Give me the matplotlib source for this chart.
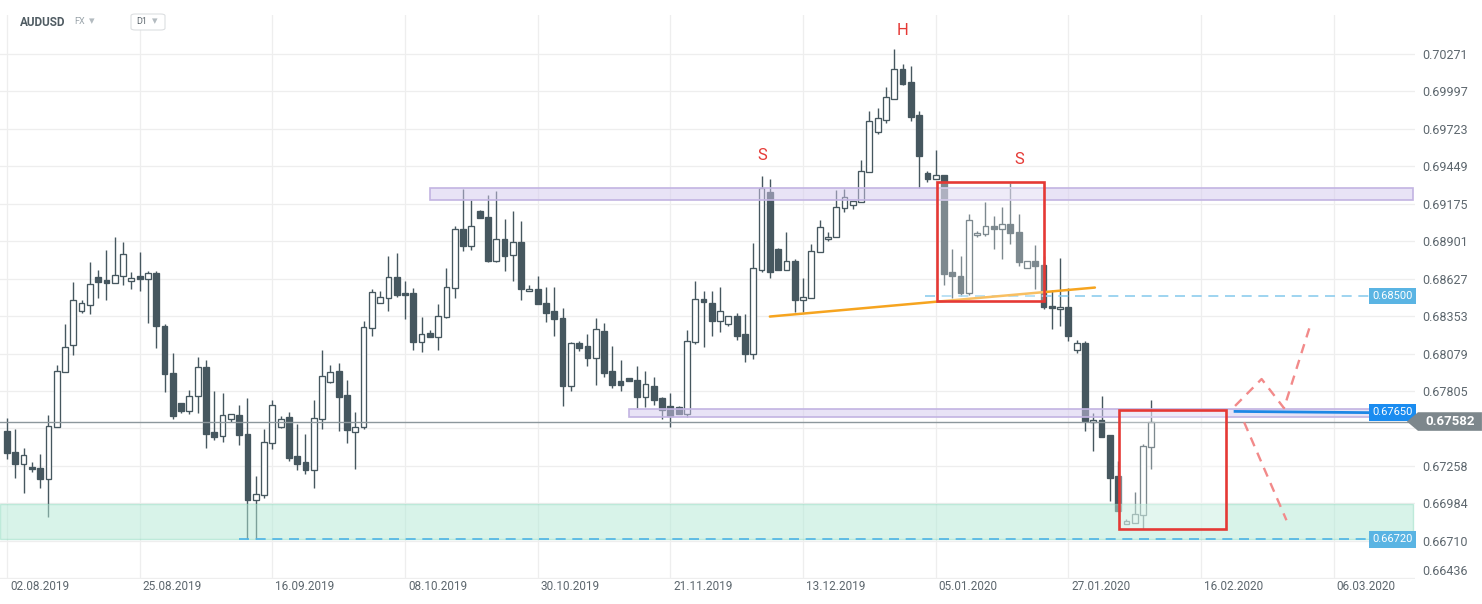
import matplotlib
matplotlib.use('Agg')
import matplotlib.pyplot as plt
import matplotlib.transforms as mtransforms
from matplotlib.patches import Rectangle, Polygon, FancyBboxPatch

plt.rcParams['font.family'] = ['Roboto', 'DejaVu Sans']

# AUDUSD D1 candles, first bar 02.08.2019
opens = [0.67510, 0.67362, 0.67274, 0.67253, 0.67245, 0.67165, 0.67544, 0.67946, 0.68143, 0.68392,
         0.68436, 0.68640, 0.68618, 0.68596, 0.68647, 0.68611, 0.68647, 0.68625, 0.68669, 0.68282,
         0.67939, 0.67715, 0.67661, 0.67766, 0.67983, 0.67503, 0.67479, 0.67598, 0.67632, 0.67493,
         0.67011, 0.67048, 0.67428, 0.67544, 0.67612, 0.67328, 0.67284, 0.67227, 0.67603, 0.67873,
         0.67953, 0.67773, 0.67508, 0.67544, 0.68268, 0.68450, 0.68489, 0.68640, 0.68525, 0.68525,
         0.68165, 0.68226, 0.68202, 0.68345, 0.68562, 0.68991, 0.68866, 0.69122, 0.69080, 0.68754,
         0.68918, 0.68801, 0.68898, 0.68538, 0.68554, 0.68452, 0.68387, 0.68343, 0.67839, 0.68153,
         0.68131, 0.68048, 0.68241, 0.67948, 0.67875, 0.67902, 0.67883, 0.67758, 0.67844, 0.67756,
         0.67693, 0.67685, 0.67636, 0.68162, 0.68479, 0.68450, 0.68319, 0.68297, 0.68354, 0.68219,
         0.68075, 0.68693, 0.69263, 0.68847, 0.68693, 0.68759, 0.68472, 0.68489, 0.68823, 0.68918,
         0.68932, 0.69144, 0.69166, 0.69188, 0.69407, 0.69699, 0.69787, 0.69940, 0.70159, 0.70067,
         0.69825, 0.69400, 0.69356, 0.69385, 0.68677, 0.68650, 0.68525, 0.68944, 0.68954, 0.69015,
         0.68988, 0.69029, 0.68971, 0.68706, 0.68759, 0.68730, 0.68430, 0.68406, 0.68423, 0.68104,
         0.68160, 0.67578, 0.67590, 0.67481, 0.67181, 0.66831, 0.66838, 0.66897, 0.67399]
highs = [0.67610, 0.67525, 0.67391, 0.67289, 0.67342, 0.67627, 0.67997, 0.68292, 0.68606, 0.68474,
         0.68752, 0.68693, 0.68839, 0.68932, 0.68898, 0.68677, 0.68825, 0.68684, 0.68681, 0.68297,
         0.68080, 0.67718, 0.67810, 0.68051, 0.68029, 0.67802, 0.67788, 0.67640, 0.67700, 0.67751,
         0.67181, 0.67525, 0.67737, 0.67620, 0.67649, 0.67561, 0.67488, 0.67737, 0.68102, 0.67992,
         0.68007, 0.67883, 0.67649, 0.68321, 0.68554, 0.68535, 0.68796, 0.68818, 0.68613, 0.68562,
         0.68350, 0.68253, 0.68445, 0.68708, 0.69015, 0.69285, 0.69200, 0.69132, 0.69241, 0.69270,
         0.69066, 0.69124, 0.69051, 0.68582, 0.68650, 0.68564, 0.68564, 0.68409, 0.68161, 0.68170,
         0.68219, 0.68343, 0.68306, 0.68131, 0.68029, 0.67903, 0.67985, 0.67948, 0.67905, 0.67761,
         0.67788, 0.67693, 0.68248, 0.68613, 0.68540, 0.68540, 0.68569, 0.68355, 0.68376, 0.68365,
         0.68891, 0.69380, 0.69358, 0.68850, 0.68971, 0.68769, 0.68633, 0.68878, 0.69059, 0.68971,
         0.69278, 0.69285, 0.69196, 0.69492, 0.69857, 0.69877, 0.70030, 0.70310, 0.70198, 0.70183,
         0.69855, 0.69416, 0.69570, 0.69386, 0.68847, 0.68796, 0.69102, 0.68978, 0.69190, 0.69088,
         0.69154, 0.69330, 0.69102, 0.68759, 0.68876, 0.68794, 0.68545, 0.68779, 0.68560, 0.68175,
         0.68168, 0.67647, 0.67768, 0.67482, 0.67291, 0.66867, 0.67065, 0.67417, 0.67737]
lows = [0.67311, 0.67172, 0.67062, 0.67216, 0.67099, 0.66880, 0.67540, 0.67944, 0.68070, 0.68374,
        0.68367, 0.68484, 0.68474, 0.68594, 0.68582, 0.68549, 0.68535, 0.68301, 0.68119, 0.67797,
        0.67598, 0.67647, 0.67636, 0.67644, 0.67388, 0.67447, 0.67432, 0.67578, 0.67410, 0.66720,
        0.66722, 0.67026, 0.67381, 0.67534, 0.67293, 0.67227, 0.67198, 0.67096, 0.67527, 0.67863,
        0.67512, 0.67425, 0.67235, 0.67527, 0.68206, 0.68448, 0.68389, 0.68491, 0.68330, 0.68104,
        0.68089, 0.68202, 0.68104, 0.68343, 0.68484, 0.68827, 0.68834, 0.69068, 0.68752, 0.68752,
        0.68681, 0.68608, 0.68469, 0.68538, 0.68440, 0.68308, 0.68206, 0.67695, 0.67804, 0.68097,
        0.67985, 0.67846, 0.67905, 0.67826, 0.67804, 0.67877, 0.67680, 0.67688, 0.67700, 0.67600,
        0.67542, 0.67636, 0.67615, 0.68146, 0.68126, 0.68206, 0.68235, 0.68279, 0.68177, 0.68014,
        0.68039, 0.68674, 0.68630, 0.68690, 0.68690, 0.68381, 0.68381, 0.68489, 0.68823, 0.68903,
        0.68932, 0.69117, 0.69139, 0.69188, 0.69407, 0.69689, 0.69769, 0.69940, 0.70045, 0.69777,
        0.69294, 0.69331, 0.69355, 0.68584, 0.68489, 0.68498, 0.68511, 0.68932, 0.68942, 0.68842,
        0.68768, 0.68881, 0.68717, 0.68705, 0.68552, 0.68403, 0.68259, 0.68281, 0.68170, 0.68082,
        0.67512, 0.67366, 0.67468, 0.67004, 0.66927, 0.66831, 0.66838, 0.66794, 0.67235]
closes = [0.67355, 0.67274, 0.67340, 0.67236, 0.67165, 0.67549, 0.67951, 0.68129, 0.68472, 0.68450,
          0.68589, 0.68603, 0.68596, 0.68655, 0.68808, 0.68633, 0.68622, 0.68669, 0.68279, 0.67931,
          0.67622, 0.67658, 0.67766, 0.67983, 0.67490, 0.67469, 0.67632, 0.67639, 0.67483, 0.67008,
          0.67055, 0.67435, 0.67705, 0.67603, 0.67315, 0.67274, 0.67227, 0.67610, 0.67916, 0.67946,
          0.67763, 0.67520, 0.67544, 0.68275, 0.68530, 0.68496, 0.68640, 0.68505, 0.68505, 0.68162,
          0.68224, 0.68202, 0.68355, 0.68569, 0.68991, 0.68864, 0.69013, 0.69068, 0.68754, 0.68918,
          0.68791, 0.68898, 0.68549, 0.68554, 0.68440, 0.68374, 0.68330, 0.67839, 0.68160, 0.68119,
          0.68046, 0.68260, 0.67936, 0.67846, 0.67846, 0.67877, 0.67763, 0.67858, 0.67739, 0.67666,
          0.67622, 0.67636, 0.68173, 0.68479, 0.68455, 0.68316, 0.68392, 0.68352, 0.68206, 0.68073,
          0.68708, 0.69290, 0.68674, 0.68693, 0.68759, 0.68469, 0.68496, 0.68830, 0.69005, 0.68932,
          0.69151, 0.69227, 0.69195, 0.69414, 0.69779, 0.69801, 0.69955, 0.70159, 0.70054, 0.69813,
          0.69521, 0.69358, 0.69385, 0.68664, 0.68644, 0.68525, 0.69056, 0.68964, 0.69013, 0.68988,
          0.69027, 0.68959, 0.68747, 0.68757, 0.68717, 0.68418, 0.68410, 0.68423, 0.68206, 0.68160,
          0.67585, 0.67590, 0.67469, 0.67169, 0.66928, 0.66851, 0.66902, 0.67403, 0.67582]

date_ticks = [0, 16, 32, 48, 64, 80, 96, 112, 128, 144, 160]
date_labels = ['02.08.2019', '25.08.2019', '16.09.2019', '08.10.2019', '30.10.2019', '21.11.2019',
               '13.12.2019', '05.01.2020', '27.01.2020', '16.02.2020', '06.03.2020']
price_ticks = [0.66436, 0.66710, 0.66984, 0.67258, 0.67531, 0.67805, 0.68079, 0.68353,
               0.68627, 0.68901, 0.69175, 0.69449, 0.69723, 0.69997, 0.70271]

# drawn levels / zones
upper_zone = [0.69205, 0.69292]
lower_zone = [0.67613, 0.67672]
green_zone = [0.66720, 0.66977]
level_top = 0.68500
level_bottom = 0.66720
level_blue = 0.67650
last_price = 0.67582
neckline_x = [92.0, 131.2]
neckline_y = [0.68350, 0.68562]
box1 = [112.1, 125.1, 0.68467, 0.69336]
box2 = [134.1, 147.0, 0.66794, 0.67663]
path_up_x = [148.1, 151.3, 154.0, 157.2]
path_up_y = [0.67696, 0.67893, 0.67680, 0.68292]
path_down_x = [149.2, 154.3]
path_down_y = [0.67576, 0.66860]
marks = [('S', 91.1, 0.69526), ('H', 108.0, 0.70446), ('S', 122.1, 0.69497)]

DARK = '#46575f'
TXT = '#5d676e'
XMIN, XMAX = -0.84, 169.8

fig = plt.figure(figsize=(14.82, 6.04), dpi=100)
ax = fig.add_axes([0, 25 / 604, 1415 / 1482, 564 / 604])
ax.set_xlim(XMIN, XMAX)
ax.set_ylim(0.66430, 0.70556)
for s in ax.spines.values():
    s.set_visible(False)

# candles
xs = list(range(len(opens)))
ax.vlines(xs, lows, highs, color=DARK, lw=1.0, zorder=2)
for i in xs:
    o, c = opens[i], closes[i]
    lo, hi = min(o, c), max(o, c)
    h = max(hi - lo, 0.00003)
    fc = 'white' if c >= o else DARK
    ax.add_patch(Rectangle((i - 0.35, lo), 0.70, h, facecolor=fc, edgecolor=DARK,
                           lw=0.95, zorder=3))

# zones
ax.add_patch(Rectangle((51.0, upper_zone[0]), XMAX - 0.2 - 51.0, upper_zone[1] - upper_zone[0],
                       facecolor='#d3c9ee', alpha=0.5, edgecolor='none', zorder=4))
ax.add_patch(Rectangle((51.0, upper_zone[0]), XMAX - 0.2 - 51.0, upper_zone[1] - upper_zone[0],
                       fill=False, edgecolor='#c2b4e2', lw=1.2, zorder=4))
ax.add_patch(Rectangle((75.0, lower_zone[0]), XMAX - 0.2 - 75.0, lower_zone[1] - lower_zone[0],
                       facecolor='#d3c9ee', alpha=0.5, edgecolor='none', zorder=4))
ax.add_patch(Rectangle((75.0, lower_zone[0]), XMAX - 0.2 - 75.0, lower_zone[1] - lower_zone[0],
                       fill=False, edgecolor='#c2b4e2', lw=1.2, zorder=4))
ax.add_patch(Rectangle((XMIN, green_zone[0]), XMAX - 0.2 - XMIN, green_zone[1] - green_zone[0],
                       facecolor='#b2e9d5', alpha=0.5, edgecolor='#93dcc1', lw=1.0, zorder=4))

# levels
ax.plot([28.0, XMAX - 0.2], [level_bottom, level_bottom], color='#4db3e6', lw=1.2,
        dashes=(6, 4), zorder=5)
ax.plot([110.7, XMAX - 0.2], [level_top, level_top], color='#8ecdee', lw=1.2,
        dashes=(6, 4), zorder=5)
ax.plot([148.1, XMAX - 0.2], [level_blue + 0.00006, level_blue - 0.00006], color='#1e88e5',
        lw=2.0, zorder=6)
ax.axhline(last_price, color='#8c979c', lw=1.0, zorder=5)

# neckline
ax.plot(neckline_x, neckline_y, color='#f6a41f', lw=1.8, zorder=6, solid_capstyle='round')

# red boxes
for b in (box1, box2):
    ax.add_patch(Rectangle((b[0], b[2]), b[1] - b[0], b[3] - b[2], facecolor=(1, 1, 1, 0.3),
                           edgecolor='#e53935', lw=1.9, zorder=6))

# projected paths
ax.plot(path_up_x, path_up_y, color='#f28a8a', lw=1.7, dashes=(4, 3), zorder=6)
ax.plot(path_down_x, path_down_y, color='#f28a8a', lw=1.7, dashes=(4, 3), zorder=6)

for t, x, y in marks:
    ax.text(x, y, t, color='#e53935', fontsize=12, ha='center', va='center', zorder=7)

# grid and ticks (the 0.67531 label sits under the last-price box)
ax.set_xticks(date_ticks)
ax.set_xticklabels(date_labels)
ax.set_yticks(price_ticks)
ax.set_yticklabels(['' if abs(v - last_price) < 0.001 else '%.5f' % v for v in price_ticks])
ax.grid(True, color='#eeeeee', lw=0.9)
ax.set_axisbelow(True)
ax.yaxis.tick_right()
ax.tick_params(axis='y', length=0, pad=5, labelsize=9, labelcolor=TXT)
ax.tick_params(axis='x', length=0, pad=1, labelsize=8.5, labelcolor=TXT)
shift = mtransforms.ScaledTranslation(3 / 100, 0, fig.dpi_scale_trans)
for lab in ax.get_xticklabels():
    lab.set_horizontalalignment('left')
    lab.set_transform(lab.get_transform() + shift)
ax.get_yticklabels()[0].set_verticalalignment('bottom')

# price labels on right edge
tr = mtransforms.blended_transform_factory(ax.transAxes, ax.transData)
for val, fc in ((level_top, '#5ab4e3'), (level_bottom, '#5ab4e3'), (level_blue, '#1a8cf0')):
    ax.text(0.9984, val, '%.5f' % val, transform=tr, ha='right', va='center', color='white',
            fontsize=8, zorder=9, bbox=dict(boxstyle='square,pad=0.3', fc=fc, ec='none'))
hh = 0.00068
ax.add_patch(Polygon([(0.9943, last_price), (1.0021, last_price + hh), (1.0473, last_price + hh),
                      (1.0473, last_price - hh), (1.0021, last_price - hh)], closed=True,
                     transform=tr, facecolor='#7d878c', edgecolor='none', clip_on=False, zorder=9))
ax.text(1.0247, last_price, '%.5f' % last_price, transform=tr, ha='center', va='center',
        color='white', fontsize=9.5, fontweight='bold', zorder=10, clip_on=False)

# header
fig.text(20 / 1482, 1 - 22 / 604, 'AUDUSD', fontsize=8.5, fontweight='bold', color='#505c63',
         va='center')
fig.text(74 / 1482, 1 - 22 / 604, 'FX', fontsize=6.5, color='#9aa4aa', va='center')
fig.text(89 / 1482, 1 - 21 / 604, '▾', fontsize=8, color='#b3bbc0', va='center',
         family='DejaVu Sans')
fig.patches.append(FancyBboxPatch((131 / 1482, 1 - 30 / 604), 34 / 1482, 16 / 604,
                                  boxstyle='round,pad=0,rounding_size=0.003',
                                  transform=fig.transFigure, fc='white', ec='#dcdfe1', lw=0.8))
fig.text(136 / 1482, 1 - 22 / 604, 'D1', fontsize=6.5, color='#5d676e', va='center')
fig.text(152 / 1482, 1 - 21 / 604, '▾', fontsize=8, color='#b3bbc0', va='center',
         family='DejaVu Sans')

plt.savefig('out.png', dpi=100)
